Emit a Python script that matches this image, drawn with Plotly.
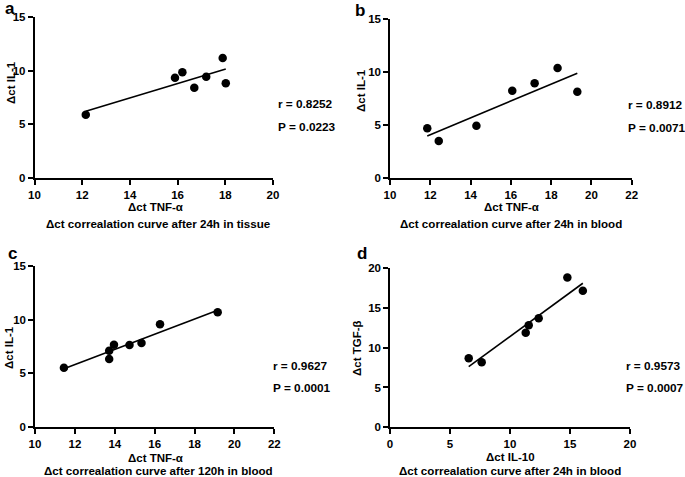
import numpy as np
import plotly.graph_objects as go

W, H = 685, 477

# ---- data ----
a_x = [12.15, 15.89, 16.20, 16.70, 17.20, 17.89, 18.02]
a_y = [5.90, 9.34, 9.85, 8.41, 9.44, 11.18, 8.82]
b_x = [11.85, 12.42, 14.29, 16.07, 17.18, 18.32, 19.30]
b_y = [4.72, 3.52, 4.96, 8.26, 8.96, 10.41, 8.17]
c_x = [11.45, 13.72, 13.72, 13.96, 14.74, 15.34, 16.27, 19.16]
c_y = [5.53, 6.34, 7.11, 7.67, 7.64, 7.83, 9.56, 10.68]
d_x = [6.56, 7.64, 11.31, 11.56, 12.39, 14.78, 16.07]
d_y = [8.66, 8.16, 11.87, 12.80, 13.70, 18.82, 17.15]

panel_letters = ["a", "b", "c", "d"]
x_titles = ["Δct TNF-α", "Δct TNF-α", "Δct TNF-α", "Δct IL-10"]
y_titles = ["Δct IL-1", "Δct IL-1", "Δct IL-1", "Δct TGF-β"]
subtitles = ["Δct correalation curve after 24h in tissue",
             "Δct correalation curve after 24h in blood",
             "Δct correalation curve after 120h in blood",
             "Δct correalation curve after 24h in blood"]
r_labels = ["r = 0.8252", "r = 0.8912", "r = 0.9627", "r = 0.9573"]
p_labels = ["P = 0.0223", "P = 0.0071", "P = 0.0001", "P = 0.0007"]
x_ranges = [[10, 20], [10, 22], [10, 22], [0, 20]]
y_ranges = [[0, 15], [0, 15], [0, 15], [0, 20]]
x_dticks = [2, 2, 2, 5]
y_dticks = [5, 5, 5, 5]

data = [(a_x, a_y), (b_x, b_y), (c_x, c_y), (d_x, d_y)]

# ---- layout geometry (pixels) ----
def PX(px):
    return px / W

def PY(py):
    return 1 - py / H

# plot area pixel boxes: (x0, x1, ytop, ybottom)
boxes = [(34.5, 273, 17, 178),
         (390, 631.7, 19.3, 178.3),
         (35, 274.3, 265.7, 427.3),
         (390, 630, 268, 427.3)]
letter_pos = [(3, 9), (353, 10), (6, 253), (355, 254)]
ytitle_pos = [(11, 83), (361, 90), (9, 348), (357, 348)]
xtitle_pos = [(155, 207), (511, 207), (155, 458), (510, 457)]
sub_pos = [(158, 223), (511, 223), (158, 470), (510, 470)]
rp_pos = [(276, 104, 127), (626, 105, 128), (271, 366, 388), (624, 366, 388)]

FONT = "Arial, 'Liberation Sans', sans-serif"
fig = go.Figure()
annotations = []
layout = {}

for i, (xs, ys) in enumerate(data):
    n = "" if i == 0 else str(i + 1)
    xa, ya = "x" + n, "y" + n
    xs_arr = np.array(xs)
    ys_arr = np.array(ys)
    slope, icpt = np.polyfit(xs_arr, ys_arr, 1)
    lx = np.array([xs_arr.min(), xs_arr.max()])
    fig.add_trace(go.Scatter(x=lx, y=slope * lx + icpt, mode="lines",
                             line=dict(color="black", width=1.6),
                             xaxis=xa, yaxis=ya, showlegend=False,
                             hoverinfo="skip", cliponaxis=False))
    fig.add_trace(go.Scatter(x=xs, y=ys, mode="markers",
                             marker=dict(color="black", size=8.5),
                             xaxis=xa, yaxis=ya, showlegend=False,
                             cliponaxis=False))
    x0, x1, yt, yb = boxes[i]
    axcommon = dict(showgrid=False, zeroline=False, showline=True,
                    linecolor="black", linewidth=1.5, ticks="outside",
                    ticklen=5, tickwidth=1.5, tickcolor="black",
                    tickfont=dict(family=FONT, size=11.5, color="black",
                                  weight="bold"),
                    fixedrange=True, automargin=False)
    layout["xaxis" + n] = dict(domain=[PX(x0), PX(x1)], range=x_ranges[i],
                               dtick=x_dticks[i], tick0=0,
                               anchor=ya, **axcommon)
    layout["yaxis" + n] = dict(domain=[PY(yb), PY(yt)], range=y_ranges[i],
                               dtick=y_dticks[i], tick0=0,
                               anchor=xa, **axcommon)
    # panel letter
    lx_, ly_ = letter_pos[i]
    annotations.append(dict(text=panel_letters[i], x=PX(lx_), y=PY(ly_),
                            xref="paper", yref="paper", xanchor="left",
                            yanchor="middle", showarrow=False,
                            font=dict(family=FONT, size=17, color="black",
                                      weight="bold")))
    # y title
    tx, ty = ytitle_pos[i]
    annotations.append(dict(text=y_titles[i], x=PX(tx), y=PY(ty),
                            xref="paper", yref="paper", xanchor="center",
                            yanchor="middle", textangle=-90, showarrow=False,
                            font=dict(family=FONT, size=11.5, color="black",
                                      weight="bold")))
    # x title and subtitle
    tx, ty = xtitle_pos[i]
    annotations.append(dict(text=x_titles[i], x=PX(tx), y=PY(ty),
                            xref="paper", yref="paper", xanchor="center",
                            yanchor="middle", showarrow=False,
                            font=dict(family=FONT, size=11.5, color="black",
                                      weight="bold")))
    tx, ty = sub_pos[i]
    annotations.append(dict(text=subtitles[i], x=PX(tx), y=PY(ty),
                            xref="paper", yref="paper", xanchor="center",
                            yanchor="middle", showarrow=False,
                            font=dict(family=FONT, size=11.6, color="black",
                                      weight="bold")))
    # r and P
    rx, ry, py_ = rp_pos[i]
    for txt, yy in ((r_labels[i], ry), (p_labels[i], py_)):
        annotations.append(dict(text=txt, x=PX(rx), y=PY(yy),
                                xref="paper", yref="paper", xanchor="left",
                                yanchor="middle", showarrow=False,
                                font=dict(family=FONT, size=11.8,
                                          color="black", weight="bold")))

fig.update_layout(width=W, height=H, margin=dict(l=0, r=0, t=0, b=0),
                  paper_bgcolor="white", plot_bgcolor="white",
                  annotations=annotations, showlegend=False, **layout)
fig.write_html("out.html", config={"displayModeBar": False},
               post_script="document.body.style.margin='0';"
                           "document.body.style.overflow='hidden';")
